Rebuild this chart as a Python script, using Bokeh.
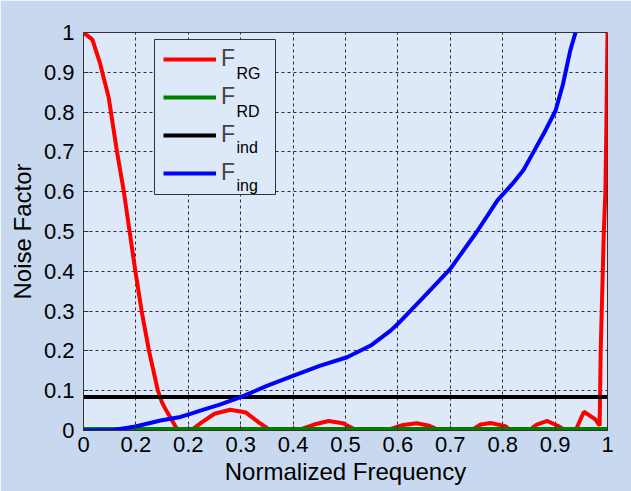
from bokeh.plotting import figure
from bokeh.models import Range1d, FixedTicker, Legend, LegendItem
from bokeh.core.properties import value
from bokeh.embed import file_html
from bokeh.resources import INLINE

# ---------------- data ----------------
freq_rg = [0.0, 0.017, 0.031, 0.048, 0.064, 0.077, 0.088, 0.099, 0.111, 0.125,
           0.142, 0.150, 0.158, 0.169, 0.180, 0.205, 0.225, 0.250, 0.280, 0.310,
           0.335, 0.357, 0.408, 0.440, 0.468, 0.495, 0.522, 0.578, 0.610, 0.636,
           0.660, 0.680, 0.740, 0.758, 0.777, 0.805, 0.815, 0.850, 0.865, 0.885,
           0.905, 0.920, 0.939, 0.955, 0.977, 0.985, 0.987, 0.993, 0.996, 0.998, 1.0]
f_rg = [1.0, 0.982, 0.925, 0.837, 0.700, 0.600, 0.500, 0.400, 0.300, 0.200,
        0.100, 0.070, 0.050, 0.025, 0.0, 0.0, 0.020, 0.042, 0.052, 0.045,
        0.020, 0.0, 0.0, 0.015, 0.024, 0.018, 0.0, 0.0, 0.014, 0.018,
        0.012, 0.0, 0.0, 0.015, 0.019, 0.011, 0.0, 0.0, 0.015, 0.024,
        0.012, 0.0, 0.0, 0.047, 0.028, 0.012, 0.200, 0.500, 0.600, 0.780, 1.0]

freq_ing = [0.0, 0.030, 0.058, 0.099, 0.147, 0.185, 0.204, 0.223, 0.260, 0.300,
            0.350, 0.401, 0.452, 0.503, 0.550, 0.586, 0.600, 0.649, 0.700, 0.751,
            0.790, 0.820, 0.840, 0.859, 0.880, 0.901, 0.915, 0.929, 0.939]
f_ing = [0.0, 0.0, 0.0015, 0.010, 0.025, 0.034, 0.042, 0.050, 0.065, 0.084,
         0.112, 0.138, 0.163, 0.184, 0.215, 0.251, 0.268, 0.335, 0.406, 0.500,
         0.578, 0.622, 0.655, 0.700, 0.750, 0.804, 0.870, 0.955, 1.0]

freq_flat = [0.0, 1.0]
f_rd = [0.004, 0.004]
f_ind = [0.084, 0.084]

x_ticks = [0.0, 0.1, 0.2, 0.3, 0.4, 0.5, 0.6, 0.7, 0.8, 0.9, 1.0]
x_tick_labels = ["0", "0.2", "0.2", "0.3", "0.4", "0.5", "0.6", "0.7", "0.8", "0.9", "1"]
y_ticks = [0.0, 0.1, 0.2, 0.3, 0.4, 0.5, 0.6, 0.7, 0.8, 0.9, 1.0]
y_tick_labels = ["0", "0.1", "0.2", "0.3", "0.4", "0.5", "0.6", "0.7", "0.8", "0.9", "1"]

legend_main = ["F", "F", "F", "F"]
legend_sub = ["RG", "RD", "ind", "ing"]

# ---------------- style ----------------
FONT = "Liberation Sans"
OUTER_BG = "#c8d9ef"
PLOT_BG = "#dde9f8"

p = figure(width=631, height=491, x_range=Range1d(0, 1), y_range=Range1d(0, 1),
           output_backend="svg", toolbar_location=None,
           min_border_left=83, min_border_right=24, min_border_top=32, min_border_bottom=61)
p.border_fill_color = OUTER_BG
p.background_fill_color = PLOT_BG
p.outline_line_color = "#333333"
p.outline_line_width = 1

for ax, ticks, labels in ((p.xaxis[0], x_ticks, x_tick_labels), (p.yaxis[0], y_ticks, y_tick_labels)):
    ax.ticker = FixedTicker(ticks=ticks)
    ax.major_label_overrides = {t: l for t, l in zip(ticks, labels)}
    ax.minor_tick_line_color = None
    ax.major_tick_in = 5
    ax.major_tick_out = 0
    ax.axis_line_color = "#333333"
    ax.major_tick_line_color = "#333333"
    ax.major_label_text_font = FONT
    ax.major_label_text_font_size = "22px"
    ax.major_label_text_color = "black"
    ax.axis_label_text_font = FONT
    ax.axis_label_text_font_size = "24px"
    ax.axis_label_text_font_style = "normal"
    ax.axis_label_text_color = "black"

p.xaxis.axis_label = "Normalized Frequency"
p.yaxis.axis_label = "Noise Factor"
p.xaxis.major_label_standoff = 6
p.yaxis.major_label_standoff = 9
p.xaxis.axis_label_standoff = 3
p.yaxis.axis_label_standoff = 5

p.xgrid.ticker = FixedTicker(ticks=x_ticks)
p.ygrid.ticker = FixedTicker(ticks=y_ticks)
for g in (p.xgrid[0], p.ygrid[0]):
    g.grid_line_color = "black"
    g.grid_line_dash = "3 3"
    g.grid_line_width = 1
    g.grid_line_alpha = 0.8

# legend frame (pixel box converted to the fixed 0..1 ranges)
frame_left, frame_bottom, fw, fh = 83, 430, 524, 398
box_l, box_r, box_t, box_b = 154, 275, 39, 194
p.quad(left=[(box_l - frame_left) / fw], right=[(box_r - frame_left) / fw],
       top=[(frame_bottom - box_t) / fh], bottom=[(frame_bottom - box_b) / fh],
       fill_color=PLOT_BG, line_color="#333333", line_width=1)

r_rg = p.line(freq_rg, f_rg, line_color="#ff0000", line_width=4)
r_rd = p.line(freq_flat, f_rd, line_color="#008000", line_width=4)
r_ind = p.line(freq_flat, f_ind, line_color="black", line_width=4)
r_ing = p.line(freq_ing, f_ing, line_color="#0000ff", line_width=4)

renderers = [r_rg, r_rd, r_ind, r_ing]
legend = Legend(items=[LegendItem(label=m, renderers=[r]) for m, r in zip(legend_main, renderers)],
                location=(80, 244), orientation="vertical",
                padding=9, spacing=11, margin=0,
                glyph_width=53, glyph_height=24, label_height=24, label_width=44,
                label_standoff=5,
                label_text_font=FONT, label_text_font_size="23px",
                label_text_baseline="alphabetic",
                border_line_color=None, background_fill_alpha=0.0)
p.add_layout(legend, "center")

# subscripts of the legend labels
row_y = [60, 98, 134, 172]
sub_x = [(236 - frame_left) / fw] * len(legend_sub)
sub_y = [(frame_bottom - (ry + 13)) / fh for ry in row_y]
p.text(x=sub_x, y=sub_y, text=legend_sub, text_font=value(FONT), text_font_size="16px",
       text_baseline="alphabetic", text_align="left", text_color="black", level="overlay")

open("out.html", "w").write(file_html(p, INLINE))
